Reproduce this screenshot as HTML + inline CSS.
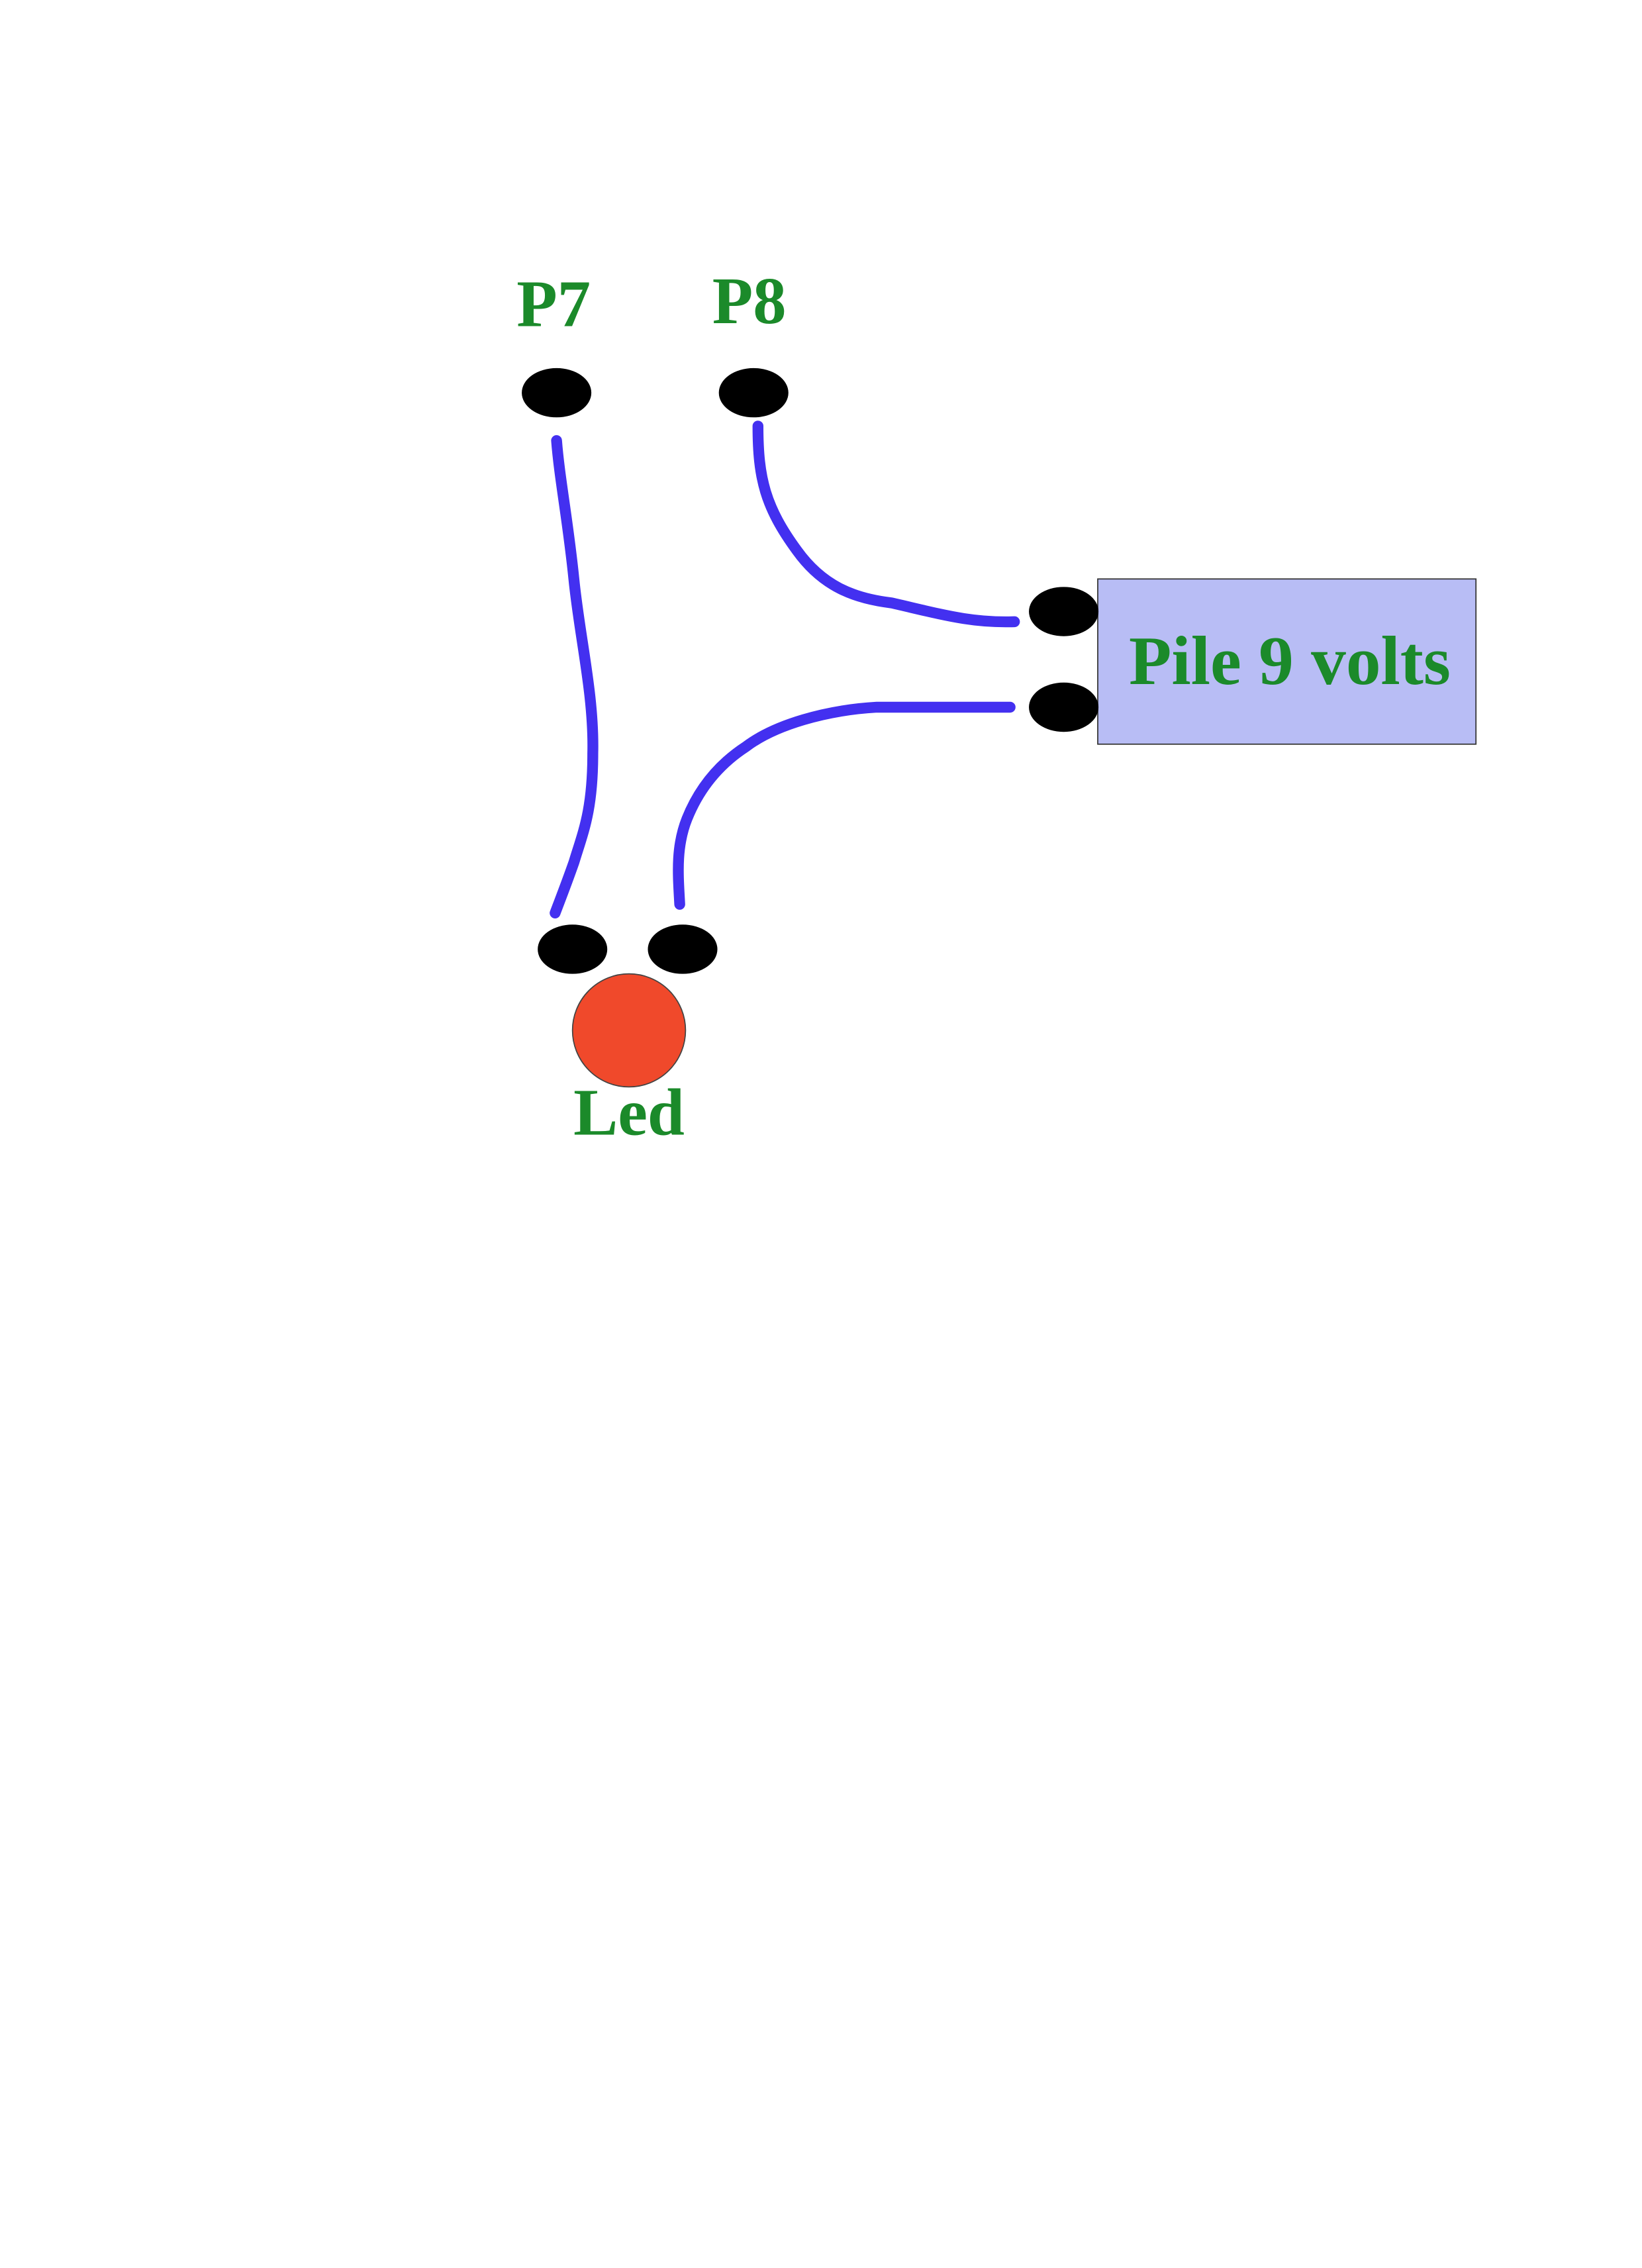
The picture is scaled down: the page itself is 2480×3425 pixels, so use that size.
<!DOCTYPE html>
<html><head><meta charset="utf-8"><style>html,body{margin:0;padding:0;background:#fff}svg{display:block}</style></head>
<body>
<svg width="2480" height="3425" viewBox="0 0 1133 1565" xmlns="http://www.w3.org/2000/svg">
<rect x="0" y="0" width="1133" height="1565" fill="#fff"/>
<g font-family="Liberation Serif, serif" font-weight="bold" fill="#1b8a2a">
<text x="382" y="225" font-size="46" text-anchor="middle">P7</text>
<text x="517" y="223" font-size="46" text-anchor="middle">P8</text>
</g>
<rect x="757.5" y="399.5" width="261" height="114" fill="#b8bdf5" stroke="#333" stroke-width="0.8"/>
<g fill="#000">
<ellipse cx="384" cy="271" rx="24" ry="17"/>
<ellipse cx="520" cy="271" rx="24" ry="17"/>
<ellipse cx="734" cy="422" rx="24" ry="17"/>
<ellipse cx="734" cy="488" rx="24" ry="17"/>
<ellipse cx="395" cy="655" rx="24" ry="17"/>
<ellipse cx="471" cy="655" rx="24" ry="17"/>
</g>
<circle cx="434" cy="711" r="39" fill="#f0492b" stroke="#444" stroke-width="0.8"/>
<g fill="none" stroke="#4330f0" stroke-width="7.5" stroke-linecap="round" stroke-linejoin="round">
<path d="M384,304 C386,330 392,360 396,400 C400,440 410,480 409,520 C409,560 402,575 396,595 C390,612 386,622 383,630"/>
<path d="M523,294 C523,330 528,350 550,380 C568,405 590,413 615,416 C650,424 670,430 700,429"/>
<path d="M697,488 L605,488 C570,490 535,500 515,515 C495,528 482,545 474,565 C466,585 468,605 469,624"/>
</g>
<g font-family="Liberation Serif, serif" font-weight="bold" fill="#1b8a2a">
<text x="890" y="472" font-size="48" text-anchor="middle" textLength="222" lengthAdjust="spacingAndGlyphs">Pile 9 volts</text>
<text x="434" y="783" font-size="46" text-anchor="middle">Led</text>
</g>
</svg>
</body></html>
